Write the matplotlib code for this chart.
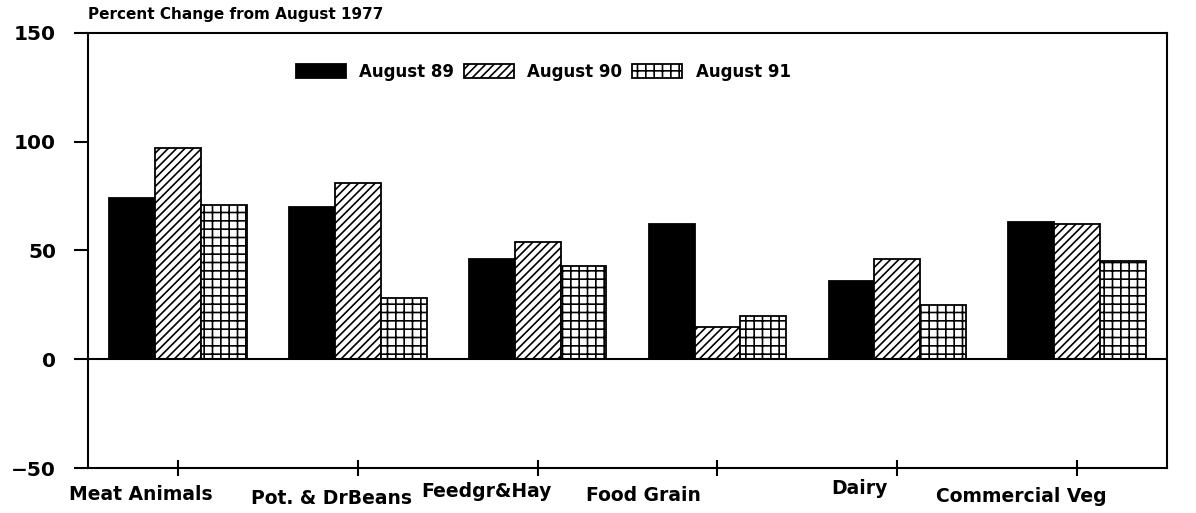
import numpy as np
import matplotlib
matplotlib.use("Agg")
import matplotlib.pyplot as plt
from matplotlib.transforms import ScaledTranslation

# data
categories = ["Meat Animals", "Pot. & DrBeans", "Feedgr&Hay",
              "Food Grain", "Dairy", "Commercial Veg"]
aug89 = [74, 70, 46, 62, 36, 63]
aug90 = [97, 81, 54, 15, 46, 62]
aug91 = [71, 28, 43, 20, 25, 45]
series_names = ["August 89", "August 90", "August 91"]
yticks = [-50, 0, 50, 100, 150]

# label nudges (points) to copy the uneven placement of the original
label_dx = [-27, -19, -37, -53, -27, -40]
label_dy = [0, -3, 2, -1, 4, -1.5]

plt.rcParams["font.family"] = "DejaVu Sans"
plt.rcParams["font.weight"] = "bold"
plt.rcParams["hatch.linewidth"] = 1.2
plt.rcParams["hatch.color"] = "black"

fig = plt.figure(figsize=(11.96, 5.13), dpi=100)
ax = fig.add_axes([0.0736, 0.0877, 0.9022, 0.848])

x = np.arange(len(categories))
w = 0.255
styles = [dict(color="black"),
          dict(facecolor="white", hatch="////"),
          dict(facecolor="white", hatch="||--")]
for i, vals in enumerate([aug89, aug90, aug91]):
    ax.bar(x + (i - 1) * w, vals, w, edgecolor="black", linewidth=1.3,
           label=series_names[i], **styles[i])

ax.axhline(0, color="black", lw=1.5, zorder=3)
ax.set_xlim(-0.5, len(categories) - 0.5)
ax.set_ylim(-50, 150)
ax.set_yticks(yticks)
ax.set_yticklabels([str(v).replace("-", "\u2212") for v in yticks],
                   fontsize=14.5, fontweight="bold")
ax.set_xticks(x)
ax.set_xticklabels(categories, fontsize=13.5, fontweight="bold")

for sp in ax.spines.values():
    sp.set_linewidth(1.5)
ax.tick_params(axis="y", direction="out", length=10, width=1.5, pad=13)
ax.tick_params(axis="x", direction="inout", length=12, width=1.5, pad=6)

for lab, dx, dy in zip(ax.get_xticklabels(), label_dx, label_dy):
    lab.set_transform(lab.get_transform() +
                      ScaledTranslation(dx / 72, dy / 72, fig.dpi_scale_trans))

title = ax.text(0, 1.0, "Percent Change from August 1977",
                ha="left", va="bottom", fontsize=11, fontweight="bold")
title.set_transform(ax.transAxes +
                    ScaledTranslation(0, 8 / 72, fig.dpi_scale_trans))

ax.legend(loc="center", bbox_to_anchor=(0.4217, 0.91), ncol=3, frameon=False,
          prop=dict(size=12, weight="bold"), handlelength=3.0,
          handleheight=0.9, handletextpad=0.8, columnspacing=0.6)

fig.savefig("out.png", dpi=100)
